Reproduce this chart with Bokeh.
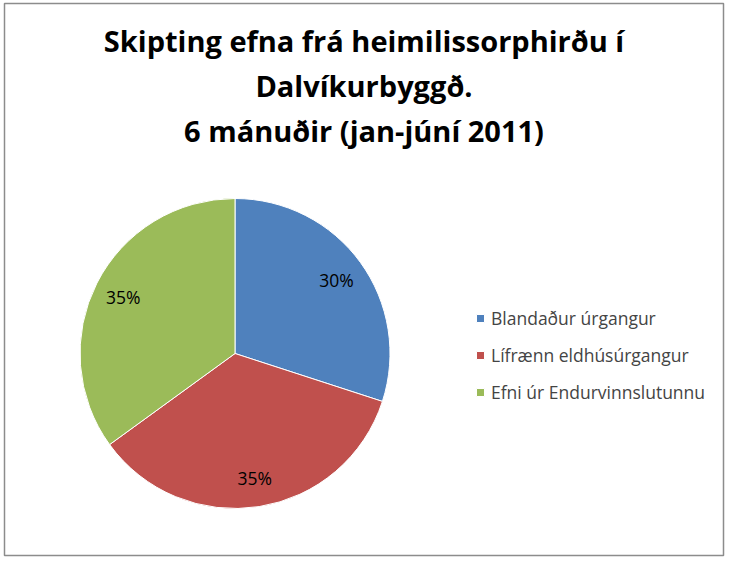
import numpy as np

from bokeh.core.properties import value
from bokeh.embed import file_html
from bokeh.models import ColumnDataSource, Legend, LegendItem, Range1d
from bokeh.plotting import figure
from bokeh.resources import INLINE

# gögn
title_lines = ["Skipting efna frá heimilissorphirðu í", "Dalvíkurbyggð.", "6 mánuðir (jan-júní 2011)"]
categories = ["Blandaður úrgangur", "Lífrænn eldhúsúrgangur", "Efni úr Endurvinnslutunnu"]
shares = [30, 35, 35]
colors = ["#4F81BD", "#C0504D", "#9BBB59"]

W, H = 732, 566
cx, cy, R = 234.5, H - 353, 155
FONT = "Open Sans"

frac = np.array(shares) / sum(shares)
cum_end = np.cumsum(frac)
cum_start = cum_end - frac
mid = (cum_start + cum_end) / 2 * 2 * np.pi

source = ColumnDataSource(dict(
    cat=categories,
    color=colors,
    start=np.pi / 2 - 2 * np.pi * cum_start,
    end=np.pi / 2 - 2 * np.pi * cum_end,
    lx=cx + 0.81 * R * np.sin(mid),
    ly=cy + 0.81 * R * np.cos(mid),
    lbl=[f"{s}%" for s in shares],
))

p = figure(width=W, height=H, x_range=Range1d(0, W), y_range=Range1d(0, H),
           output_backend="svg", toolbar_location=None, min_border=0)
p.axis.visible = False
p.grid.visible = False
p.outline_line_color = None

# rammi
p.quad(left=4, right=723, bottom=H - 555, top=H - 3, fill_color=None,
       line_color="#8c8c8c", line_width=1.5)

w = p.wedge(x=cx, y=cy, radius=R, start_angle="start", end_angle="end",
            direction="clock", fill_color="color", line_color="white",
            line_width=1, source=source)

p.text(x="lx", y="ly", text="lbl", source=source, text_align="center",
       text_baseline="middle", text_font=value(FONT), text_font_size="17.5px",
       text_color="black")

# titill
p.text(x=[363.5] * 3, y=[H - 39.5, H - 84.5, H - 129.5], text=title_lines,
       text_align="center", text_baseline="middle", text_font=value(FONT),
       text_font_size="29px", text_font_style="bold", text_color="black")

items = [LegendItem(label=c, renderers=[w], index=i) for i, c in enumerate(categories)]
legend = Legend(items=items, location=(475, H - 403.5), padding=0, spacing=13,
                glyph_width=10, glyph_height=10, label_standoff=6, label_height=24,
                label_text_font=FONT, label_text_font_size="17.5px",
                border_line_color=None, background_fill_alpha=0)
p.add_layout(legend)

open("out.html", "w").write(file_html(p, INLINE))
